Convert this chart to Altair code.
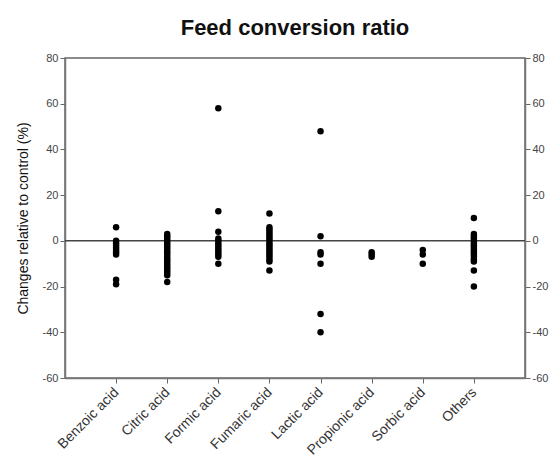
import altair as alt
import pandas as pd

# Changes in feed conversion ratio relative to control, per acidifier group
groups = ["Benzoic acid", "Citric acid", "Formic acid", "Fumaric acid",
          "Lactic acid", "Propionic acid", "Sorbic acid", "Others"]

benzoic = [6, 0, -1, -2, -3, -4, -5, -6, -17, -19]
citric = [3, 2, 1, 0, -1, -2, -3, -4, -5, -6, -7, -8, -9, -10, -11, -12,
          -13, -14, -15, -18]
formic = [58, 13, 4, 1, 0, -1, -2, -3, -4, -5, -6, -7, -10]
fumaric = [12, 6, 5, 4, 3, 2, 1, 0, -1, -2, -3, -4, -5, -6, -7, -8, -9, -13]
lactic = [48, 2, -5, -6, -10, -32, -40]
propionic = [-5, -6, -7]
sorbic = [-4, -6, -10]
others = [10, 3, 2, 1, 0, -1, -2, -3, -4, -5, -6, -7, -8, -9, -13, -20]

series = [benzoic, citric, formic, fumaric, lactic, propionic, sorbic, others]
rows = [{"group": g, "change": v} for g, vals in zip(groups, series) for v in vals]
df = pd.DataFrame(rows)

y_ticks = [-60, -40, -20, 0, 20, 40, 60, 80]
y_scale = alt.Scale(domain=[-60, 80], nice=False, zero=False)
x_scale = alt.Scale(domain=groups, padding=1)

FONT = "Liberation Sans"
PLAIN_NUM = "datum.value + ''"  # ASCII hyphen for negatives

x_enc = alt.X(
    "group:N", scale=x_scale, sort=groups, title=None,
    axis=alt.Axis(labelAngle=-45, labelAlign="right", labelBaseline="middle",
                  labelFontSize=14, labelColor="#333", labelPadding=7,
                  tickColor="#666", tickSize=5, domainColor="#777",
                  domainWidth=1.5, grid=False),
)

points = alt.Chart(df).mark_circle(size=42, color="black", opacity=1).encode(
    x=x_enc,
    y=alt.Y("change:Q", scale=y_scale,
            title="Changes relative to control (%)",
            axis=alt.Axis(values=y_ticks, labelFontSize=11, labelColor="#444",
                          labelExpr=PLAIN_NUM,
                          tickColor="#666", tickSize=5, domainColor="#777",
                          domainWidth=1.5, grid=False, titleFontSize=14,
                          titleFontWeight="normal", titleColor="#111",
                          titlePadding=12)),
)

# zero reference line, carrying the mirrored axis on the right
zero = alt.Chart(pd.DataFrame({"change": [0]})).mark_rule(
    color="#444", strokeWidth=1.5
).encode(
    y=alt.Y("change:Q", scale=y_scale, title=None,
            axis=alt.Axis(orient="right", values=y_ticks, labelFontSize=11,
                          labelColor="#444", labelExpr=PLAIN_NUM,
                          tickColor="#666", tickSize=5,
                          domainColor="#777", domainWidth=1.5, grid=False)),
)

chart = (
    alt.layer(zero, points)
    .resolve_axis(y="independent")
    .properties(
        width=460, height=320,
        title=alt.TitleParams("Feed conversion ratio", fontSize=22,
                              fontWeight="bold", font=FONT, color="#111",
                              anchor="middle", offset=12),
        autosize=alt.AutoSizeParams(type="none"),
        padding={"left": 65, "top": 58, "right": 32, "bottom": 84},
    )
    .configure(font=FONT)
    .configure_view(stroke="#666", strokeWidth=1.5)
)

chart.save("out.html", embed_options={"renderer": "svg", "actions": False})
